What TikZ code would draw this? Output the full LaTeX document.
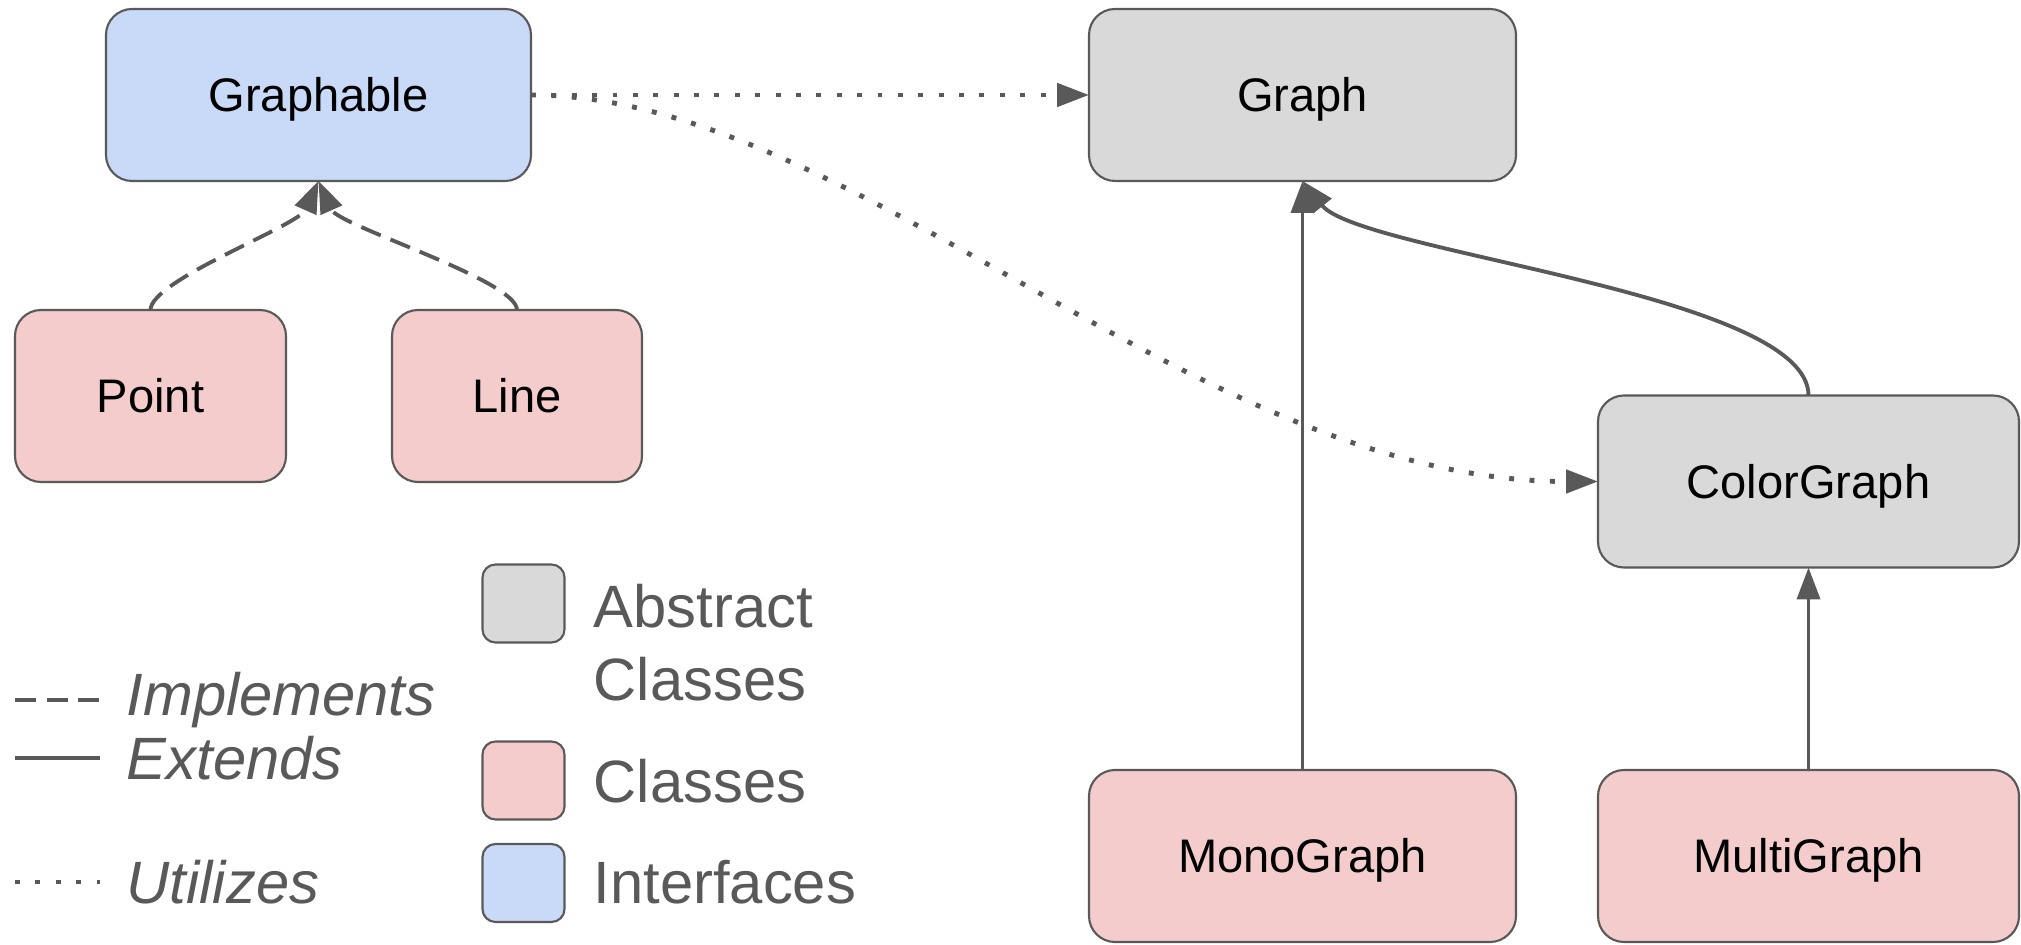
\documentclass[tikz,border=0pt]{standalone}
\usepackage{fontspec}
\setmainfont{Liberation Sans}
\usetikzlibrary{arrows.meta}

\definecolor{ifaceblue}{HTML}{C9DAF8}
\definecolor{classred}{HTML}{F4CCCC}
\definecolor{abstractgray}{HTML}{D9D9D9}
\definecolor{edgegray}{HTML}{595959}

\begin{document}
\begin{tikzpicture}[
    box/.style={draw=edgegray, line width=0.6pt, rounded corners=0.26cm,
        minimum height=1.72cm, inner sep=0pt, outer sep=0pt,
        text height=9.6pt, text depth=0pt,
        font=\fontsize{13.4}{16}\selectfont},
    ifacebox/.style={box, fill=ifaceblue},
    classbox/.style={box, fill=classred},
    abstractbox/.style={box, fill=abstractgray},
    swatch/.style={draw=edgegray, line width=0.6pt, rounded corners=0.13cm,
        minimum width=0.82cm, minimum height=0.78cm, inner sep=0pt},
    legendtext/.style={anchor=west, inner sep=0pt, text=edgegray,
        font=\fontsize{17}{20.7}\selectfont, align=left},
    tip/.style={-{Triangle[length=0.32cm,width=0.23cm]}},
    implements/.style={edgegray, line width=1.1pt, dash pattern=on 6pt off 3pt},
    extends/.style={edgegray, line width=1.1pt},
    utilizes/.style={edgegray, line width=1.4pt, dash pattern=on 1.4pt off 4.4pt},
]
    \useasboundingbox (0,0) rectangle (20.21,9.44);

    % Classes
    \node[ifacebox, minimum width=4.25cm] (graphable) at (3.185,8.49) {Graphable};
    \node[classbox, minimum width=2.71cm] (point) at (1.505,5.48) {Point};
    \node[classbox, minimum width=2.50cm] (line) at (5.17,5.48) {Line};
    \node[abstractbox, minimum width=4.27cm] (graph) at (13.025,8.49) {Graph};
    \node[abstractbox, minimum width=4.21cm] (colorgraph) at (18.085,4.625) {ColorGraph};
    \node[classbox, minimum width=4.27cm] (monograph) at (13.025,0.88) {MonoGraph};
    \node[classbox, minimum width=4.21cm] (multigraph) at (18.085,0.88) {MultiGraph};

    % Implements
    \draw[implements, tip] (point.north) .. controls +(0,0.3) and +(-0.2,-0.45) .. (graphable.south);
    \draw[implements, tip] (line.north) .. controls +(0,0.3) and +(0.2,-0.45) .. (graphable.south);

    % Extends
    \draw[extends, tip] (monograph.north) -- (graph.south);
    \draw[extends, tip] (colorgraph.north) .. controls +(0,1.02) and +(0.575,-0.72) .. (graph.south);
    \draw[extends, tip] (multigraph.north) -- (colorgraph.south);

    % Utilizes
    \draw[utilizes, tip] (graphable.east) -- (graph.west);
    \draw[utilizes, tip] (graphable.east) .. controls +(3.2,0) and +(-4,0) .. (colorgraph.west);

    % Legend
    \draw[implements] (0.15,2.44) -- (1.00,2.44);
    \draw[extends] (0.15,1.86) -- (1.00,1.86);
    \draw[utilizes] (0.15,0.62) -- (1.00,0.62);
    \node[legendtext] (txtimpl) at (1.26,2.44) {\itshape Implements};
    \node[legendtext] (txtext) at (1.26,1.86) {\itshape Extends};
    \node[legendtext] (txtutil) at (1.26,0.62) {\itshape Utilizes};

    \node[swatch, fill=abstractgray] (legabstract) at (5.235,3.405) {};
    \node[swatch, fill=classred] (legclass) at (5.235,1.635) {};
    \node[swatch, fill=ifaceblue] (legiface) at (5.235,0.61) {};
    \node[legendtext] (txtabstract) at (5.93,3.015) {Abstract\\Classes};
    \node[legendtext] (txtclass) at (5.93,1.63) {Classes};
    \node[legendtext] (txtiface) at (5.93,0.62) {Interfaces};
\end{tikzpicture}
\end{document}
